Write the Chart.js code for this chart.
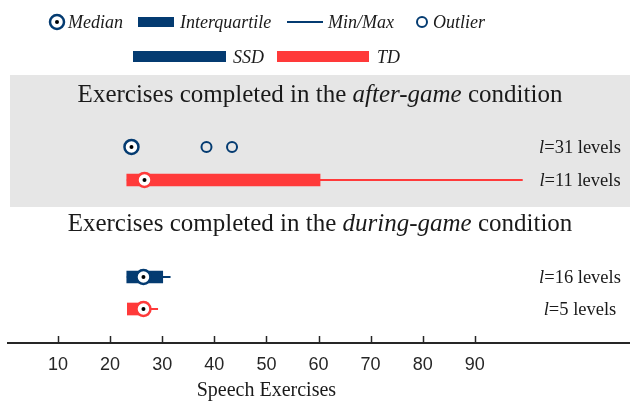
<!DOCTYPE html>
<html>
<head>
<meta charset="utf-8">
<script src="https://cdn.jsdelivr.net/npm/chart.js@4.4.1/dist/chart.umd.min.js"></script>
<style>
  html, body { margin: 0; padding: 0; background: #fff; }
  #wrap { width: 630px; height: 405px; }
</style>
</head>
<body>
<div id="wrap"><canvas id="boxChart"></canvas></div>
<script>
// one entry per row, top to bottom
const groups = ['SSD', 'TD', 'SSD', 'TD'];
const levels = [31, 11, 16, 5];
const mins = [23.6, 23.2, 23.2, 23.3];
const q1s = [23.6, 23.2, 23.2, 23.3];
const medians = [24.1, 26.6, 26.4, 26.4];
const q3s = [24.6, 60.3, 30.1, 27.4];
const maxs = [24.6, 99.2, 31.6, 29.2];
const outliers = [[38.5, 43.4], [], [], []];
const xTicks = [10, 20, 30, 40, 50, 60, 70, 80, 90];

// layout (y scale units, one unit ~ one row)
const rowPos = [5.94, 4.94, 2, 1.03];
const Y_MAX = 8.12;
const BAND_FROM = 4.12;

const NAVY = '#043b71';
const RED = '#ff3a3a';
const INK = '#1a1a1a';
const SERIF = '"Liberation Serif", "Times New Roman", serif';
const colorOf = g => (g === 'SSD' ? NAVY : RED);

const whiskers = groups.map((g, i) => ({
  type: 'line',
  data: [{ x: mins[i], y: rowPos[i] }, { x: maxs[i], y: rowPos[i] }],
  borderColor: colorOf(g),
  borderWidth: 2,
  pointRadius: 0,
  order: 5
}));

const boxes = ['SSD', 'TD'].map(g => ({
  type: 'bar',
  indexAxis: 'y',
  data: groups.map((gg, i) => gg === g ? { x: [q1s[i], q3s[i]], y: rowPos[i] } : null).filter(Boolean),
  backgroundColor: colorOf(g),
  barThickness: 12,
  grouped: false,
  order: 4
}));

const outlierPts = [];
outliers.forEach((list, i) => list.forEach(v => outlierPts.push({ x: v, y: rowPos[i] })));

const datasets = [
  ...whiskers,
  ...boxes,
  {
    type: 'scatter',
    data: outlierPts,
    pointRadius: 5,
    pointBorderWidth: 2,
    pointBackgroundColor: 'rgba(0,0,0,0)',
    pointBorderColor: NAVY,
    order: 3
  },
  {
    type: 'scatter',
    data: medians.map((m, i) => ({ x: m, y: rowPos[i] })),
    pointRadius: 7,
    pointBorderWidth: 2.5,
    pointBackgroundColor: '#fff',
    pointBorderColor: groups.map(colorOf),
    order: 2
  },
  {
    type: 'scatter',
    data: medians.map((m, i) => ({ x: m, y: rowPos[i] })),
    pointRadius: 2,
    pointBorderWidth: 0,
    pointBackgroundColor: '#000',
    order: 1
  }
];

function drawMixed(ctx, parts, x, baseY, size, align) {
  const fonts = parts.map(p => (p[1] ? 'italic ' : '') + size + 'px ' + SERIF);
  let total = 0;
  const widths = parts.map((p, i) => {
    ctx.font = fonts[i];
    const w = ctx.measureText(p[0]).width;
    total += w;
    return w;
  });
  let cx = align === 'left' ? x : x - total / 2;
  ctx.textAlign = 'left';
  ctx.textBaseline = 'alphabetic';
  ctx.fillStyle = INK;
  parts.forEach((p, i) => {
    ctx.font = fonts[i];
    ctx.fillText(p[0], cx, baseY);
    cx += widths[i];
  });
}

const decor = {
  id: 'decor',
  beforeDatasetsDraw(chart) {
    const { ctx, scales: { x, y } } = chart;
    ctx.save();
    const top = y.getPixelForValue(Y_MAX);
    const bot = y.getPixelForValue(BAND_FROM);
    ctx.fillStyle = '#e6e6e6';
    ctx.fillRect(10, top, chart.width - 10, bot - top);
    drawMixed(ctx, [['Exercises completed in the ', 0], ['after-game', 1], [' condition', 0]],
      320, y.getPixelForValue(7.3), 25);
    drawMixed(ctx, [['Exercises completed in the ', 0], ['during-game', 1], [' condition', 0]],
      320, y.getPixelForValue(3.4), 25);
    ctx.restore();
  },
  afterDraw(chart) {
    const { ctx, chartArea, scales: { x, y } } = chart;
    ctx.save();
    // tick marks pointing up into the plot
    ctx.strokeStyle = '#262626';
    ctx.lineWidth = 1.5;
    xTicks.forEach(t => {
      const px = Math.round(x.getPixelForValue(t)) + 0.5;
      ctx.beginPath();
      ctx.moveTo(px, chartArea.bottom);
      ctx.lineTo(px, chartArea.bottom - 7);
      ctx.stroke();
    });
    // axis title, centred under the 0-100 range
    drawMixed(ctx, [['Speech Exercises', 0]], x.getPixelForValue(50), 396, 20);
    // level labels
    levels.forEach((l, i) => {
      drawMixed(ctx, [['l', 1], ['=' + l + ' levels', 0]], 580, y.getPixelForValue(rowPos[i]) + 6, 18.5);
    });
    // legend
    ctx.lineWidth = 2.5;
    ctx.strokeStyle = NAVY;
    ctx.fillStyle = '#fff';
    ctx.beginPath(); ctx.arc(57, 22, 7, 0, Math.PI * 2); ctx.fill(); ctx.stroke();
    ctx.fillStyle = '#000';
    ctx.beginPath(); ctx.arc(57, 22, 2, 0, Math.PI * 2); ctx.fill();
    ctx.fillStyle = NAVY;
    ctx.fillRect(138, 17, 36, 10);
    ctx.lineWidth = 2;
    ctx.beginPath(); ctx.moveTo(287, 22); ctx.lineTo(323, 22); ctx.stroke();
    ctx.beginPath(); ctx.arc(422, 22, 5, 0, Math.PI * 2); ctx.stroke();
    ctx.fillRect(133, 51, 93, 11);
    ctx.fillStyle = RED;
    ctx.fillRect(277, 51, 92, 11);
    drawMixed(ctx, [['Median', 1]], 68, 28, 18, 'left');
    drawMixed(ctx, [['Interquartile', 1]], 180, 28, 18, 'left');
    drawMixed(ctx, [['Min/Max', 1]], 328, 28, 18, 'left');
    drawMixed(ctx, [['Outlier', 1]], 433, 28, 18, 'left');
    drawMixed(ctx, [['SSD', 1]], 233, 63, 18, 'left');
    drawMixed(ctx, [['TD', 1]], 377, 63, 18, 'left');
    ctx.restore();
  }
};

new Chart(document.getElementById('boxChart'), {
  data: { datasets },
  options: {
    responsive: true,
    maintainAspectRatio: false,
    animation: false,
    layout: { autoPadding: false, padding: { top: 75, left: 8, right: 1, bottom: 0 } },
    plugins: { legend: { display: false }, tooltip: { enabled: false } },
    scales: {
      x: {
        type: 'linear',
        min: 0.4,
        max: 119.6,
        offset: false,
        afterBuildTicks: scale => { scale.ticks = xTicks.map(v => ({ value: v })); },
        afterFit: scale => { scale.height = 62; },
        grid: { display: false, drawTicks: false },
        border: { display: true, color: '#262626', width: 2 },
        ticks: {
          padding: 11,
          color: '#262626',
          font: { family: '"Liberation Sans", Arial, sans-serif', size: 18 }
        },
        title: { display: false }
      },
      y: { type: 'linear', display: false, offset: false, min: 0, max: Y_MAX }
    }
  },
  plugins: [decor]
});
</script>
</body>
</html>
